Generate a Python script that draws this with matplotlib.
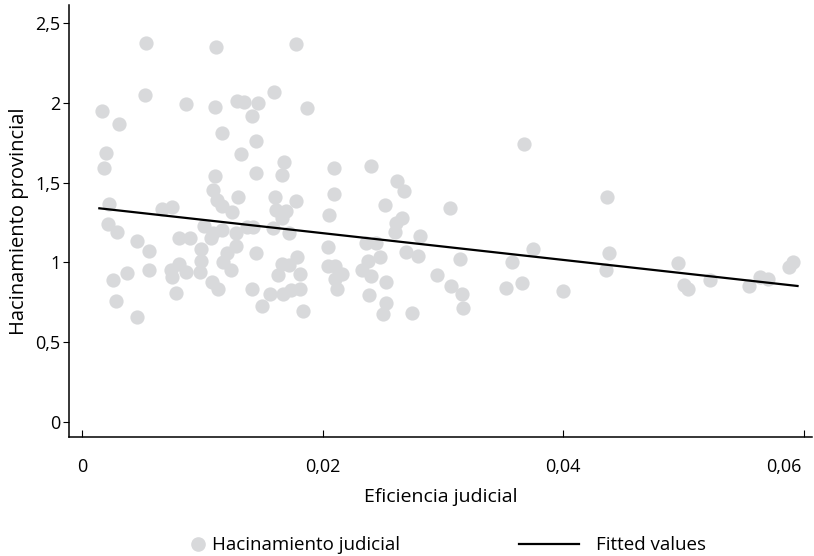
import numpy as np
import matplotlib
matplotlib.use('Agg')
import matplotlib.pyplot as plt
from matplotlib.lines import Line2D
from matplotlib.transforms import ScaledTranslation

plt.rcParams['font.family'] = ['Open Sans', 'DejaVu Sans']

# eficiencia judicial (x) / hacinamiento provincial (y)
eficiencia = [
    0.00166, 0.00310, 0.00197, 0.00185, 0.00222, 0.00214, 0.00291, 0.00260, 0.00374, 0.00285,
    0.00460, 0.00455, 0.00560, 0.00556, 0.00530, 0.00521, 0.00665, 0.00751, 0.00807, 0.00902,
    0.00736, 0.00746, 0.00807, 0.00867, 0.00782, 0.00867, 0.00977,
    0.01016, 0.00988, 0.00992, 0.01080, 0.01134, 0.01070, 0.01092, 0.01167, 0.01281, 0.01203,
    0.01175, 0.01237, 0.01281, 0.01370, 0.01425, 0.01444, 0.01416, 0.01494, 0.01112, 0.01103,
    0.01286, 0.01347, 0.01464, 0.01410, 0.01162, 0.01325, 0.01447, 0.01443, 0.01106, 0.01087,
    0.01299, 0.01123, 0.01162, 0.01245,
    0.01593, 0.01780, 0.01871, 0.01682, 0.01666, 0.01601, 0.01780, 0.01610, 0.01674, 0.01700,
    0.01666, 0.01591, 0.01724, 0.01785, 0.01661, 0.01724, 0.01813, 0.01630, 0.01563, 0.01674,
    0.01738, 0.01809, 0.01838,
    0.02096, 0.02406, 0.02620, 0.02680, 0.02096, 0.02520, 0.02054, 0.02657, 0.02611, 0.02603,
    0.02044, 0.02364, 0.02445, 0.02811, 0.02694, 0.02794, 0.02478, 0.02381, 0.02326, 0.02403,
    0.02044, 0.02104, 0.02166, 0.02104, 0.02121, 0.02524, 0.02387, 0.02527, 0.02500, 0.02746,
    0.03063, 0.03146, 0.02956, 0.03069, 0.03158, 0.03166, 0.03676, 0.03753, 0.03578, 0.03526,
    0.03657, 0.03997, 0.04363, 0.04382, 0.04358, 0.04959, 0.05006, 0.05042, 0.05220, 0.05549,
    0.05638, 0.05702, 0.05882, 0.05910,
]
hacinamiento = [
    1.949, 1.865, 1.685, 1.593, 1.366, 1.238, 1.189, 0.892, 0.936, 0.760,
    0.659, 1.136, 1.071, 0.956, 2.375, 2.048, 1.333, 1.347, 1.153, 1.156,
    0.950, 0.911, 0.992, 0.939, 0.811, 1.992, 0.940,
    1.230, 1.083, 1.008, 0.875, 0.834, 1.151, 1.183, 1.203, 1.186, 1.058,
    1.001, 0.953, 1.103, 1.224, 1.224, 1.058, 0.834, 0.728, 2.349, 1.975,
    2.013, 2.006, 2.000, 1.919, 1.808, 1.679, 1.760, 1.563, 1.541, 1.452,
    1.407, 1.394, 1.354, 1.314,
    2.067, 2.367, 1.965, 1.629, 1.549, 1.412, 1.385, 1.330, 1.308, 1.320,
    1.277, 1.217, 1.183, 1.036, 0.989, 0.984, 0.930, 0.919, 0.802, 0.801,
    0.828, 0.834, 0.697,
    1.589, 1.602, 1.512, 1.446, 1.426, 1.360, 1.300, 1.277, 1.245, 1.193,
    1.097, 1.122, 1.122, 1.164, 1.063, 1.043, 1.033, 1.009, 0.951, 0.916,
    0.977, 0.977, 0.928, 0.894, 0.833, 0.878, 0.797, 0.747, 0.676, 0.682,
    1.338, 1.020, 0.920, 0.853, 0.803, 0.713, 1.742, 1.086, 1.005, 0.839,
    0.869, 0.820, 1.410, 1.061, 0.953, 0.995, 0.859, 0.832, 0.889, 0.851,
    0.911, 0.895, 0.970, 1.001,
]

# fitted values (endpoints of the regression line)
fit_x = [0.00144, 0.0595]
fit_y = [1.339, 0.853]

x_ticks = [0, 0.02, 0.04, 0.06]
x_labels = ['0', '0,02', '0,04', '0,06']
y_ticks = [0, 0.5, 1, 1.5, 2, 2.5]
y_labels = ['0', '0,5', '1', '1,5', '2', '2,5']

grey = '#d8d9db'

fig = plt.figure(figsize=(8.14, 5.56), dpi=100)
ax = fig.add_axes([0.0848, 0.214, 0.9127, 0.777])

ax.scatter(eficiencia, hacinamiento, s=105, color=grey, linewidths=0, zorder=2)
ax.plot(fit_x, fit_y, color='black', lw=1.6, zorder=3)

ax.set_xlim(-0.00108, 0.0607)
ax.set_ylim(-0.092, 2.611)
ax.set_xticks(x_ticks)
ax.set_xticklabels(x_labels)
ax.set_yticks(y_ticks)
ax.set_yticklabels(y_labels)
ax.tick_params(axis='x', direction='in', length=5, width=0.8, pad=15, labelsize=13)
ax.tick_params(axis='y', direction='out', length=4, width=0.8, pad=2, labelsize=13)

# last x label sits a bit left of its tick so it stays inside the figure
last = ax.get_xticklabels()[-1]
last.set_transform(last.get_transform() + ScaledTranslation(-14 / 72, 0, fig.dpi_scale_trans))

for s in ['top', 'right']:
    ax.spines[s].set_visible(False)
for s in ['left', 'bottom']:
    ax.spines[s].set_linewidth(1.1)

ax.set_xlabel('Eficiencia judicial', fontsize=14, labelpad=9)
ax.set_ylabel('Hacinamiento provincial', fontsize=14.5, labelpad=5)

h1 = Line2D([], [], marker='o', ls='', color=grey, markersize=9.5)
h2 = Line2D([], [], color='black', lw=1.6)
fig.legend([h1], ['Hacinamiento judicial'], loc='center', bbox_to_anchor=(0.363, 0.019),
           frameon=False, fontsize=13.5, handlelength=0.7, handletextpad=0.4)
fig.legend([h2], ['Fitted values'], loc='center', bbox_to_anchor=(0.752, 0.019),
           frameon=False, fontsize=13.5, handlelength=3.2, handletextpad=0.9)

fig.savefig('out.png', dpi=100)
